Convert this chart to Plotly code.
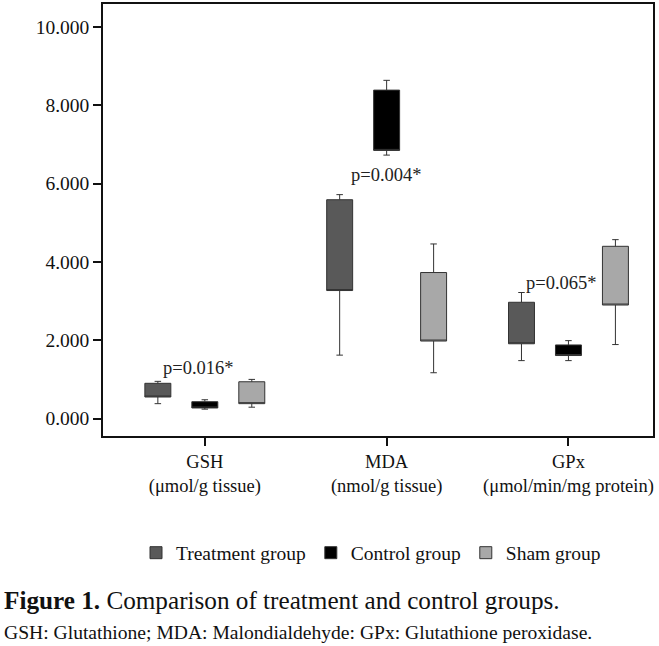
import plotly.graph_objects as go

# ---------------- data ----------------
categories = ["GSH", "MDA", "GPx"]
category_labels = ["GSH<br>(μmol/g tissue)", "MDA<br>(nmol/g tissue)", "GPx<br>(μmol/min/mg protein)"]
groups = ["Treatment group", "Control group", "Sham group"]

# per group: [GSH, MDA, GPx]
treat_low = [0.38, 1.62, 1.48]
treat_q1 = [0.55, 3.27, 1.91]
treat_q3 = [0.90, 5.59, 2.97]
treat_high = [0.95, 5.72, 3.22]

ctrl_low = [0.24, 6.73, 1.48]
ctrl_q1 = [0.27, 6.85, 1.61]
ctrl_q3 = [0.43, 8.39, 1.88]
ctrl_high = [0.48, 8.64, 1.99]

sham_low = [0.29, 1.17, 1.89]
sham_q1 = [0.38, 1.98, 2.90]
sham_q3 = [0.94, 3.73, 4.40]
sham_high = [1.00, 4.46, 4.57]

p_labels = ["p=0.016*", "p=0.004*", "p=0.065*"]
p_y = [1.30, 6.22, 3.46]

y_ticks = [0, 2, 4, 6, 8, 10]

# ---------------- style ----------------
fills = ["#595959", "#000000", "#a8a8a8"]
SERIF = "Liberation Serif, Times New Roman, serif"
W, H = 659, 646
PL, PR, PT, PB = 103, 653, 4, 436


def px_to_paper_x(px):
    return (px - PL) / (PR - PL)


def px_to_paper_y(py):
    return (PB - py) / (PB - PT)


fig = go.Figure()
series = [
    (treat_low, treat_q1, treat_q3, treat_high),
    (ctrl_low, ctrl_q1, ctrl_q3, ctrl_high),
    (sham_low, sham_q1, sham_q3, sham_high),
]
for name, fill, (lo, q1, q3, hi) in zip(groups, fills, series):
    fig.add_trace(go.Box(
        name=name,
        x=categories,
        lowerfence=lo,
        q1=q1,
        median=q1,
        q3=q3,
        upperfence=hi,
        fillcolor=fill,
        line=dict(color="#333333", width=1),
        whiskerwidth=0.25,
        boxpoints=False,
        hoverinfo="skip",
    ))

for cat, txt, yv, xs in zip(categories, p_labels, p_y, [-6, 0, -7]):
    fig.add_annotation(x=cat, y=yv, text=txt, showarrow=False, xshift=xs,
                       font=dict(family=SERIF, size=18.5, color="#222222"),
                       xanchor="center", yanchor="middle")

fig.add_annotation(
    xref="paper", yref="paper",
    x=px_to_paper_x(2), y=px_to_paper_y(600),
    xanchor="left", yanchor="middle", showarrow=False,
    text="<b>Figure 1.</b> Comparison of treatment and control groups.",
    font=dict(family=SERIF, size=25.2, color="#111111"),
)
fig.add_annotation(
    xref="paper", yref="paper",
    x=px_to_paper_x(2), y=px_to_paper_y(632),
    xanchor="left", yanchor="middle", showarrow=False,
    text="GSH: Glutathione; MDA: Malondialdehyde: GPx: Glutathione peroxidase.",
    font=dict(family=SERIF, size=19.6, color="#111111"),
)

fig.update_layout(
    width=W, height=H,
    margin=dict(l=PL, r=W - PR, t=PT, b=H - PB, pad=0, autoexpand=False),
    paper_bgcolor="white", plot_bgcolor="white",
    boxmode="group", boxgap=0.225, boxgroupgap=0.447,
    font=dict(family=SERIF, size=19.5, color="#111111"),
    legend=dict(
        orientation="h", xref="container", yref="container",
        x=136 / W, y=(H - 553) / H, xanchor="left", yanchor="middle",
        font=dict(family=SERIF, size=19.5, color="#111111"),
        bgcolor="rgba(0,0,0,0)", itemclick=False, itemdoubleclick=False,
    ),
    xaxis=dict(
        type="category", categoryorder="array", categoryarray=categories,
        tickmode="array", tickvals=categories, ticktext=category_labels,
        range=[-0.56, 2.465], automargin=False,
        showline=True, linecolor="#111111", linewidth=1.5, mirror=True,
        ticks="outside", ticklen=8, tickwidth=1.5, tickcolor="#111111",
        showgrid=False, zeroline=False,
        tickfont=dict(family=SERIF, size=18.5, color="#111111"),
    ),
    yaxis=dict(
        range=[-0.446, 10.59], automargin=False,
        tickmode="array", tickvals=y_ticks, tickformat=".3f",
        showline=True, linecolor="#111111", linewidth=1.5, mirror=True,
        ticks="outside", ticklen=8, tickwidth=1.5, tickcolor="#111111",
        showgrid=False, zeroline=False,
        tickfont=dict(family=SERIF, size=19.5, color="#111111"),
    ),
)

fig.write_html("out.html", config={"displayModeBar": False},
               post_script="document.body.style.margin='0px';")
